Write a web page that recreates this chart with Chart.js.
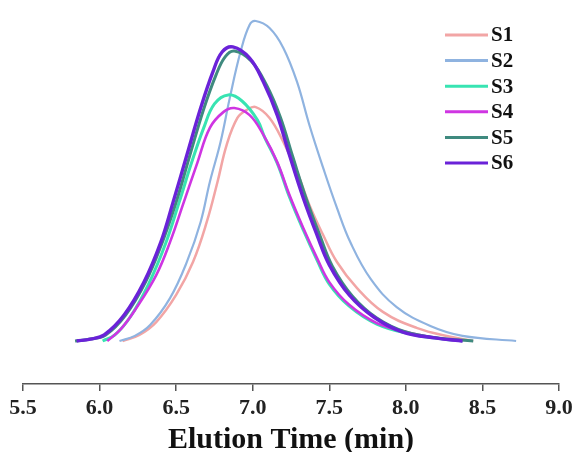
<!DOCTYPE html>
<html>
<head>
<meta charset="utf-8">
<script src="https://cdn.jsdelivr.net/npm/chart.js@4.4.1/dist/chart.umd.min.js"></script>
<style>
  html, body { margin: 0; padding: 0; background: #fff; }
  #wrap { width: 574px; height: 452px; }
</style>
</head>
<body>
<div id="wrap"><canvas id="chart"></canvas></div>
<script>
// Elution time (min) and relative signal
const s1Time = [6.15, 6.26, 6.37, 6.50, 6.61, 6.70, 6.77, 6.83, 6.90, 6.96, 7.02, 7.11, 7.20, 7.29, 7.37, 7.46, 7.55, 7.68, 7.85, 8.07, 8.29, 8.44]
const s1Signal = [0, 1.9, 5.9, 14.4, 24.7, 37.2, 49.7, 61.3, 69.7, 72.2, 73.1, 69.7, 62.2, 52.8, 42.5, 33.1, 24.7, 16.6, 9.1, 4.1, 1.3, 0]

const s2Time = [6.13, 6.23, 6.33, 6.46, 6.57, 6.66, 6.72, 6.79, 6.85, 6.92, 6.98, 7.02, 7.11, 7.20, 7.29, 7.37, 7.46, 7.55, 7.64, 7.77, 7.94, 8.16, 8.37, 8.72]
const s2Signal = [0, 1.6, 5.0, 13.4, 24.7, 37.2, 49.7, 62.2, 75.9, 90.3, 98.8, 100, 97.8, 91.6, 80.9, 67.5, 54.1, 41.6, 30.6, 19.4, 10.6, 4.7, 1.6, 0]

const s3Time = [6.02, 6.10, 6.20, 6.32, 6.43, 6.52, 6.60, 6.68, 6.75, 6.84, 6.93, 7.03, 7.08, 7.16, 7.24, 7.33, 7.42, 7.50, 7.63, 7.81, 8.03, 8.24, 8.37]
const s3Signal = [0, 1.9, 7.5, 17.8, 30.3, 43.4, 55.6, 66.6, 74.1, 76.9, 75.0, 69.1, 63.4, 55.6, 45.0, 34.7, 25.3, 17.8, 10.9, 5.3, 2.2, 0.6, 0]

const s4Time = [6.05, 6.14, 6.24, 6.37, 6.46, 6.55, 6.64, 6.72, 6.81, 6.88, 6.98, 7.07, 7.16, 7.24, 7.33, 7.42, 7.50, 7.63, 7.81, 8.03, 8.24, 8.37]
const s4Signal = [0, 3.8, 10.3, 20.6, 30.9, 43.4, 55.9, 66.6, 71.6, 72.8, 70.6, 64.4, 55.9, 45.6, 35.3, 25.9, 18.4, 11.3, 5.6, 2.5, 0.6, 0]

const s5Time = [5.84, 5.94, 6.04, 6.17, 6.30, 6.41, 6.50, 6.59, 6.68, 6.76, 6.82, 6.88, 6.99, 7.09, 7.18, 7.26, 7.35, 7.44, 7.52, 7.65, 7.81, 8.00, 8.22, 8.44]
const s5Signal = [0, 0.6, 1.9, 8.1, 18.4, 30.9, 43.4, 58.1, 72.5, 83.1, 88.8, 90.6, 87.5, 80.0, 70.0, 57.8, 44.4, 32.8, 23.4, 14.1, 7.2, 2.8, 0.9, 0]

const s6Time = [5.85, 5.94, 6.03, 6.16, 6.29, 6.40, 6.48, 6.57, 6.66, 6.74, 6.80, 6.87, 6.98, 7.07, 7.16, 7.24, 7.33, 7.42, 7.50, 7.63, 7.79, 7.98, 8.20, 8.37]
const s6Signal = [0, 0.6, 1.9, 8.1, 18.4, 30.9, 43.4, 58.1, 72.8, 84.1, 90.3, 91.9, 88.4, 80.9, 70.6, 58.1, 44.7, 33.1, 23.8, 14.4, 7.5, 2.8, 0.9, 0]

const seriesNames = ["S1", "S2", "S3", "S4", "S5", "S6"]
const xTicks = [5.5, 6.0, 6.5, 7.0, 7.5, 8.0, 8.5, 9.0]

const SERIES = [
  { time: s1Time, signal: s1Signal, color: "#f2a5a5", width: 2.5 },
  { time: s2Time, signal: s2Signal, color: "#8fb3e0", width: 2.2 },
  { time: s3Time, signal: s3Signal, color: "#38e4b2", width: 3 },
  { time: s4Time, signal: s4Signal, color: "#cf35e2", width: 2.6 },
  { time: s5Time, signal: s5Signal, color: "#3f8a7f", width: 3 },
  { time: s6Time, signal: s6Signal, color: "#6a22d8", width: 3.4 },
]

const FONT = "'Liberation Serif', 'Times New Roman', serif"
const AXIS = "#555"

// legend drawn in the top right corner, inside the plot
const cornerLegend = {
  id: "cornerLegend",
  afterDraw(chart) {
    const ctx = chart.ctx
    ctx.save()
    ctx.font = `bold 21px ${FONT}`
    ctx.textBaseline = "middle"
    ctx.textAlign = "left"
    chart.data.datasets.forEach((ds, i) => {
      const y = 35 + i * 25.6
      ctx.strokeStyle = ds.borderColor
      ctx.lineWidth = 3
      ctx.beginPath()
      ctx.moveTo(445, y)
      ctx.lineTo(488, y)
      ctx.stroke()
      ctx.fillStyle = "#111"
      ctx.fillText(ds.label, 491, y + 1)
    })
    ctx.restore()
  },
}

new Chart(document.getElementById("chart"), {
  type: "line",
  data: {
    datasets: SERIES.map((s, i) => ({
      label: seriesNames[i],
      data: s.time.map((t, j) => ({ x: t, y: s.signal[j] })),
      borderColor: s.color,
      borderWidth: s.width,
      pointRadius: 0,
      tension: 0.4,
      fill: false,
      order: SERIES.length - i,
    })),
  },
  options: {
    responsive: true,
    maintainAspectRatio: false,
    animation: false,
    layout: { padding: { top: 10, left: 23, right: 15, bottom: -3 } },
    plugins: {
      legend: { display: false },
      tooltip: { enabled: false },
    },
    scales: {
      x: {
        type: "linear",
        min: 5.5,
        max: 9.0,
        afterBuildTicks: (axis) => {
          axis.ticks = xTicks.map((v) => ({ value: v }))
        },
        // let the end labels hang past the plot edges like the original
        afterFit: (axis) => {
          axis.paddingLeft = 0
          axis.paddingRight = 0
        },
        grid: {
          drawOnChartArea: false,
          drawTicks: true,
          tickLength: 7,
          color: AXIS,
          lineWidth: 1.5,
        },
        border: { display: true, color: AXIS, width: 1.5 },
        ticks: {
          color: "#222",
          font: { family: FONT, size: 22, weight: "bold", lineHeight: 1 },
          padding: 6,
          maxRotation: 0,
          autoSkip: false,
          callback: (v) => Number(v).toFixed(1),
        },
        title: {
          display: true,
          text: "Elution Time (min)",
          color: "#111",
          font: { family: FONT, size: 30, weight: "bold", lineHeight: 1 },
          padding: { top: 0, bottom: 0 },
        },
      },
      y: {
        display: false,
        min: -13.44,
        max: 103.44,
      },
    },
  },
  plugins: [cornerLegend],
})
</script>
</body>
</html>
